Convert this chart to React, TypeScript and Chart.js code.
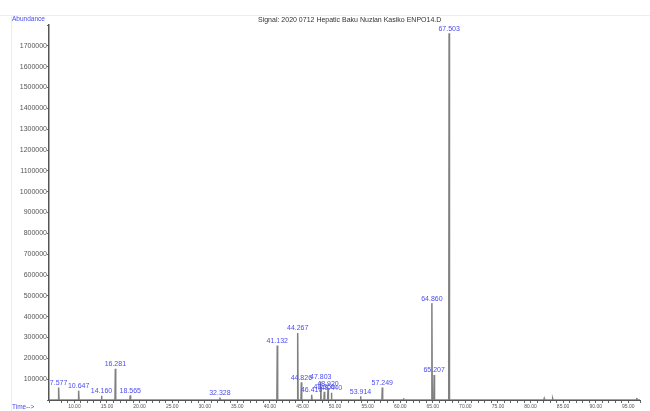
import React, { useEffect, useRef } from "react";
import { Chart, registerables } from "chart.js";

Chart.register(...registerables);

// Retention times (min) of integrated peaks
const peakTimes: number[] = [
  7.577, 10.647, 14.16, 16.281, 18.565, 32.328, 41.132, 44.267, 44.826, 46.41,
  47.803, 48.35, 48.92, 49.44, 53.914, 57.249, 60.5, 64.86, 65.207, 67.503,
  82.1, 83.4, 96.3,
];
// Abundance at each peak apex
const peakHeights: number[] = [
  60000, 45000, 20000, 150000, 22000, 12000, 262000, 322000, 85000, 25000,
  88000, 40000, 55000, 35000, 18000, 60000, 8000, 465000, 120000, 1760000,
  7000, 6000, 10000,
];
// Peak annotation labels ("" = unlabeled)
const peakLabels: string[] = [
  "7.577", "10.647", "14.160", "16.281", "18.565", "32.328", "41.132", "44.267",
  "44.826", "46.410", "47.803", "48.350", "48.920", "49.440", "53.914", "57.249",
  "", "64.860", "65.207", "67.503", "", "", "",
];

const timeMin = 6.1;
const timeMax = 96.8;
const abundanceMax = 1800000;
const abundanceStep = 100000;

const titleText = "Signal: 2020 0712 Hepatic Baku Nuzlan Kasiko ENPO14.D";

export default function App() {
  const ref = useRef<HTMLCanvasElement | null>(null);

  useEffect(() => {
    document.body.style.margin = "0";
    const canvas = ref.current;
    if (!canvas) return;

    const order = peakTimes.map((_, i) => i).sort((a, b) => peakTimes[a] - peakTimes[b]);
    const pts: { x: number; y: number }[] = [{ x: timeMin, y: 0 }];
    order.forEach((i) => {
      const t = peakTimes[i];
      pts.push({ x: t - 0.06, y: 0 });
      pts.push({ x: t, y: peakHeights[i] });
      pts.push({ x: t + 0.06, y: 0 });
    });
    pts.push({ x: timeMax, y: 0 });

    const decor = {
      id: "decor",
      beforeDraw(chart: any) {
        const c = chart.ctx;
        c.save();
        c.fillStyle = "#ffffff";
        c.fillRect(0, 0, chart.width, chart.height);
        c.strokeStyle = "#e2f4e2";
        c.lineWidth = 1;
        c.beginPath();
        c.moveTo(0, 15.5);
        c.lineTo(chart.width, 15.5);
        c.moveTo(11.5, 15.5);
        c.lineTo(11.5, chart.height);
        c.stroke();
        c.restore();
      },
      afterDatasetsDraw(chart: any) {
        const c = chart.ctx;
        const xs = chart.scales.x;
        const ys = chart.scales.y;
        c.save();
        c.font = "7px 'Liberation Sans', Arial, sans-serif";
        c.fillStyle = "#4b4bf0";
        c.textAlign = "center";
        c.textBaseline = "bottom";
        peakTimes.forEach((t, i) => {
          const lab = peakLabels[i];
          if (!lab) return;
          const px = xs.getPixelForValue(t);
          const py = ys.getPixelForValue(peakHeights[i]);
          c.fillText(lab, px, py - 1);
        });
        // title
        c.font = "7px 'Liberation Sans', Arial, sans-serif";
        c.fillStyle = "#333333";
        c.textAlign = "left";
        c.textBaseline = "middle";
        c.fillText(titleText, 258, 20.5);
        // axis captions
        c.fillStyle = "#4b4bf0";
        c.font = "6.5px 'Liberation Sans', Arial, sans-serif";
        c.fillText("Abundance", 12, 19);
        c.fillText("Time-->", 12, 407);
        c.restore();
      },
    };

    const chart = new Chart(canvas, {
      type: "line",
      data: {
        datasets: [
          {
            data: pts,
            borderColor: "#808080",
            borderWidth: 1.5,
            pointRadius: 0,
            tension: 0,
            fill: false,
          },
        ],
      },
      options: {
        animation: false,
        responsive: false,
        devicePixelRatio: 1,
        layout: { padding: { left: 0, right: 10, top: 25, bottom: 0 } },
        plugins: {
          legend: { display: false },
          tooltip: { enabled: false },
          title: { display: false },
        },
        scales: {
          x: {
            type: "linear",
            min: timeMin,
            max: timeMax,
            afterFit(scale: any) {
              scale.height = 11;
            },
            grid: { drawOnChartArea: false, drawTicks: true, tickLength: 3, color: "#666" },
            border: { display: true, color: "#555", width: 1 },
            ticks: {
              stepSize: 1,
              autoSkip: false,
              maxRotation: 0,
              minRotation: 0,
              maxTicksLimit: 1000,
              padding: 1,
              color: "#555",
              font: { size: 5, family: "'Liberation Sans', Arial, sans-serif" },
              callback: (v: any) => {
                const n = Number(v);
                return Math.abs(n - Math.round(n / 5) * 5) < 1e-6 ? n.toFixed(2) : "";
              },
            },
          },
          y: {
            type: "linear",
            min: 0,
            max: abundanceMax,
            afterFit(scale: any) {
              scale.width = 49;
            },
            grid: { drawOnChartArea: false, drawTicks: true, tickLength: 2, color: "#666" },
            border: { display: true, color: "#555", width: 1.5 },
            ticks: {
              stepSize: abundanceStep,
              autoSkip: false,
              padding: 0,
              color: "#555",
              font: { size: 7, family: "'Liberation Sans', Arial, sans-serif" },
              callback: (v: any) => {
                const n = Number(v);
                return n === 0 || n === abundanceMax ? "" : String(n);
              },
            },
          },
        },
      },
      plugins: [decor],
    });

    return () => chart.destroy();
  }, []);

  return (
    <div style={{ position: "fixed", left: 0, top: 0, width: 650, height: 411 }}>
      <canvas ref={ref} width={650} height={411} />
    </div>
  );
}
